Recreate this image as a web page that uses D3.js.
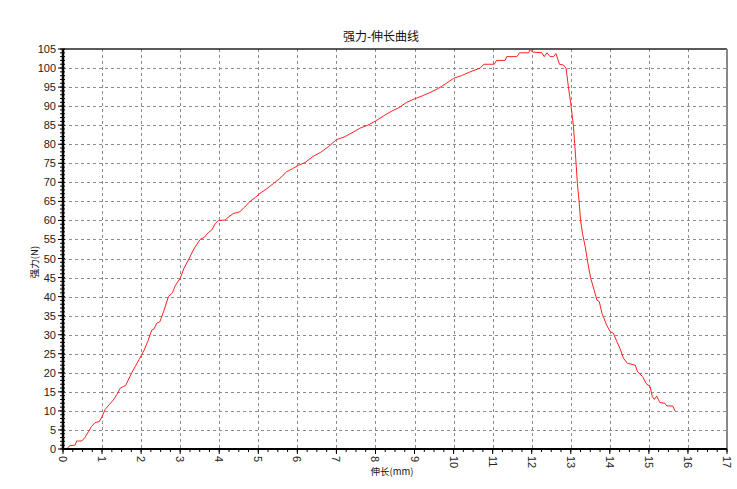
<!DOCTYPE html>
<html><head><meta charset="utf-8">
<script src="https://cdn.jsdelivr.net/npm/d3@7"></script>
<style>body{margin:0;background:#fff;}svg{display:block;}</style>
</head><body>
<script>
const title = "强力-伸长曲线";
const xLabel = "伸长(mm)";
const yLabel = "强力(N)";
const xTicks = d3.range(0, 18, 1);
const yTicks = d3.range(0, 110, 5);
// elongation (mm)
const elong = [0.09,0.18,0.31,0.35,0.48,0.56,0.65,0.73,0.82,0.93,1.0,1.08,1.18,1.29,1.38,1.46,1.54,1.6,1.67,1.76,1.84,1.95,2.08,2.18,2.27,2.33,2.4,2.48,2.58,2.7,2.8,2.88,3.0,3.1,3.21,3.35,3.51,3.62,3.72,3.81,3.9,3.98,4.15,4.25,4.36,4.53,4.65,4.79,4.92,5.04,5.2,5.39,5.55,5.73,5.88,6.03,6.2,6.4,6.6,6.8,7.0,7.2,7.4,7.6,7.8,8.0,8.2,8.4,8.6,8.8,9.0,9.2,9.4,9.6,9.8,10.0,10.2,10.4,10.55,10.68,10.78,11.04,11.1,11.32,11.36,11.62,11.69,11.92,11.96,12.03,12.26,12.32,12.39,12.47,12.56,12.62,12.71,12.81,12.88,12.94,13.0,13.07,13.1,13.13,13.17,13.21,13.25,13.3,13.37,13.44,13.51,13.6,13.67,13.73,13.8,13.92,14.01,14.09,14.18,14.26,14.35,14.45,14.65,14.71,14.84,14.93,15.03,15.09,15.14,15.2,15.28,15.41,15.46,15.61,15.67];
// force (N)
const force = [0,0.9,1,2.1,2.1,3,4.5,5.9,6.9,7.2,8.5,10.4,11.6,12.9,14.3,15.9,16.4,16.6,18.1,20,21.5,23.5,26,28.5,31.2,31.5,33,33.4,36.2,40,41,43,44.8,47.5,49.6,52.5,55,55.6,56.8,57.5,59.2,60,60.1,61,61.8,62.3,63.5,65,66,67.1,68.2,69.7,71,72.8,73.6,74.5,75.2,76.8,77.9,79.4,81.2,81.9,83.0,84.2,85.0,86.1,87.4,88.6,89.6,91.0,91.9,92.7,93.6,94.6,95.9,97.3,98.0,98.9,99.5,100,101,101,102,102,103,103,104,104,104.8,104.2,104,103,104,103,103,103.8,101,100.8,100,95,90.7,84.6,80.2,75.9,69.7,65.4,60.1,56.6,53.1,48.7,44.8,41.7,39.1,38.7,35.6,32.5,30.8,30.4,28.2,26.4,23.8,22.5,22,20.3,19,17.2,16.4,13.7,13,13.9,12.2,12,11.3,11.3,10];

const W = 737, H = 489;
const m = {left: 63, right: 10, top: 49, bottom: 40};
const pw = 727 - 63, ph = 449 - 49;

const svg = d3.select("body").append("svg").attr("width", W).attr("height", H);
const x = d3.scaleLinear().domain([0, 17]).range([m.left, m.left + pw]);
const y = d3.scaleLinear().domain([0, 105]).range([m.top + ph, m.top]);

// grid
const g = svg.append("g").attr("stroke", "#8c8c8c").attr("stroke-width", 1).attr("stroke-dasharray", "3,3").attr("shape-rendering", "crispEdges");
g.selectAll(".vg").data(xTicks.filter(d => d > 0 && d < 17)).join("line")
  .attr("x1", d => Math.round(x(d)) + 0.5).attr("x2", d => Math.round(x(d)) + 0.5)
  .attr("y1", y(105)).attr("y2", y(0));
g.selectAll(".hg").data(yTicks.filter(d => d > 0 && d < 105)).join("line")
  .attr("y1", d => Math.round(y(d)) + 0.5).attr("y2", d => Math.round(y(d)) + 0.5)
  .attr("x1", x(0)).attr("x2", x(17));

// borders
svg.append("line").attr("x1", x(0)).attr("x2", x(17)).attr("y1", y(105)).attr("y2", y(105))
  .attr("stroke", "#222").attr("stroke-width", 1.5);
svg.append("line").attr("x1", x(17)).attr("x2", x(17)).attr("y1", y(105)).attr("y2", y(0))
  .attr("stroke", "#888").attr("stroke-width", 2);

// curve
const pts = elong.map((e, i) => [e, force[i]]);
svg.append("path").datum(pts)
  .attr("fill", "none").attr("stroke", "#ff2020").attr("stroke-width", 1)
  .attr("d", d3.line().x(d => x(d[0])).y(d => y(d[1])));

// x axis
const xAxis = svg.append("g").attr("transform", `translate(0,${y(0)})`);
xAxis.append("line").attr("x1", x(0) - 1).attr("x2", x(17)).attr("stroke", "#000").attr("stroke-width", 2);
xAxis.selectAll(".mn").data(d3.range(0, 17.01, 0.25)).join("line")
  .attr("x1", d => x(d)).attr("x2", d => x(d)).attr("y1", 0).attr("y2", 3)
  .attr("stroke", "#000").attr("stroke-width", 1);
xAxis.selectAll(".mj").data(xTicks).join("line")
  .attr("x1", d => x(d)).attr("x2", d => x(d)).attr("y1", 0).attr("y2", 5)
  .attr("stroke", "#000").attr("stroke-width", 1);
xAxis.selectAll("text").data(xTicks).join("text")
  .attr("transform", d => `translate(${x(d) - 4},7) rotate(90)`)
  .attr("font-family", "Liberation Sans, Arial, sans-serif").attr("font-size", 11)
  .attr("fill", "#222").attr("text-anchor", "start").text(d => d);

// y axis
const yAxis = svg.append("g").attr("transform", `translate(${x(0)},0)`);
yAxis.append("line").attr("y1", y(105)).attr("y2", y(0) + 1).attr("stroke", "#000").attr("stroke-width", 2.5);
yAxis.selectAll(".mn").data(d3.range(0, 106, 1)).join("line")
  .attr("y1", d => y(d)).attr("y2", d => y(d)).attr("x1", -3).attr("x2", 2)
  .attr("stroke", "#000").attr("stroke-width", 1);
yAxis.selectAll(".mj").data(yTicks).join("line")
  .attr("y1", d => y(d)).attr("y2", d => y(d)).attr("x1", -5).attr("x2", 0)
  .attr("stroke", "#000").attr("stroke-width", 1);
yAxis.selectAll("text").data(yTicks).join("text")
  .attr("x", -7).attr("y", d => y(d) + 4)
  .attr("font-family", "Liberation Sans, Arial, sans-serif").attr("font-size", 11)
  .attr("fill", "#222").attr("text-anchor", "end").text(d => d);

// titles
svg.append("text").attr("x", 381).attr("y", 41).attr("text-anchor", "middle")
  .attr("font-family", "Noto Sans CJK SC, sans-serif").attr("font-size", 12).attr("fill", "#111").text(title);
svg.append("text").attr("x", 392).attr("y", 475).attr("text-anchor", "middle")
  .attr("font-family", "Noto Sans CJK SC, sans-serif").attr("font-size", 9.5).attr("fill", "#111").text(xLabel);
svg.append("text").attr("transform", "translate(38,262) rotate(-90)").attr("text-anchor", "middle")
  .attr("font-family", "Noto Sans CJK SC, sans-serif").attr("font-size", 9.5).attr("fill", "#111").text(yLabel);
</script>
</body></html>
